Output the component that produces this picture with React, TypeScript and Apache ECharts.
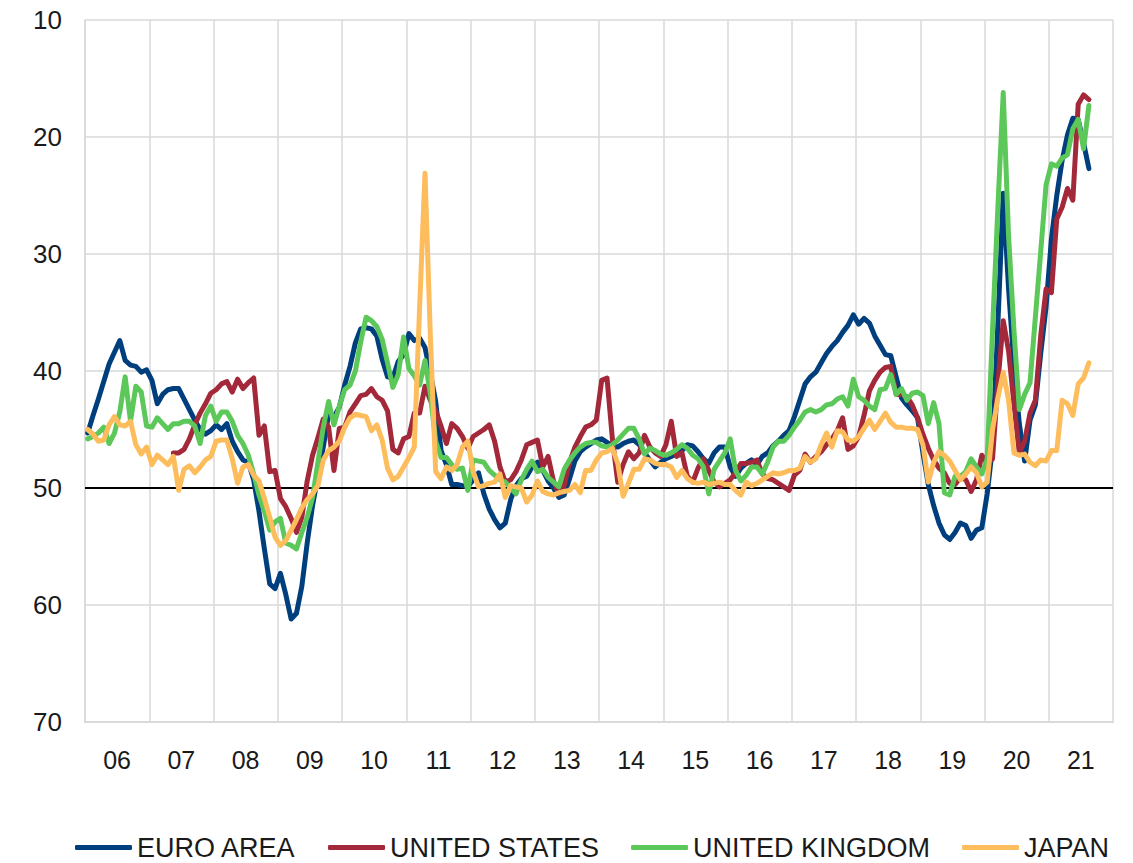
import React, { useEffect, useRef } from "react";
import * as echarts from "echarts";

// Month index 0 = Jan 2006 ... last point Aug 2021
const yearLabels = ["06", "07", "08", "09", "10", "11", "12", "13", "14", "15", "16", "17", "18", "19", "20", "21"];
const seriesNames = ["EURO AREA", "UNITED STATES", "UNITED KINGDOM", "JAPAN"];

const euroArea = [
  45.3, 43.8, 42.4, 40.9, 39.4, 38.4, 37.4, 39.1, 39.5, 39.6, 40.1, 39.9,
  40.8, 42.8, 42.0, 41.6, 41.5, 41.5, 42.4, 43.3, 44.2, 45.0, 45.4, 45.1,
  44.6, 45.0, 44.5, 46.0, 46.9, 47.6, 47.8, 49.3, 52.0, 55.2, 58.2, 58.6,
  57.3, 59.1, 61.2, 60.7, 58.4, 54.7, 51.5, 49.0, 46.5, 43.7, 43.9, 43.1,
  41.2, 39.6, 37.6, 36.4, 36.3, 36.4, 37.0, 39.0, 40.5, 40.6, 39.2, 38.6,
  36.8, 37.4, 37.2, 38.0, 40.2, 42.6, 46.8, 48.0, 49.7, 49.7, 49.8, 49.9,
  49.3, 48.7, 50.5, 51.8, 52.7, 53.4, 53.0, 51.0, 49.8, 49.2, 49.0, 48.2,
  47.8, 48.5, 49.4, 50.0, 50.8, 50.6, 49.2, 47.7, 46.9, 46.5, 46.2, 45.9,
  45.8, 46.1, 46.4, 46.5, 46.2, 46.0, 45.9, 46.3, 47.0, 47.6, 48.2, 47.8,
  47.5, 47.3, 47.1, 46.8, 46.3, 46.4, 46.9, 47.5, 47.9, 47.0, 46.5, 46.5,
  48.2, 49.0, 48.3, 47.9, 47.6, 48.0, 47.3, 47.0, 46.4, 46.0, 45.5, 45.1,
  43.9, 42.5, 41.1, 40.5, 40.1, 39.3, 38.5, 37.9, 37.4, 36.7, 36.1, 35.2,
  36.0, 35.5, 35.9, 37.0, 37.8, 38.6, 38.7, 40.5, 42.3, 42.9, 43.4, 44.0,
  47.0, 49.7, 51.5, 53.0, 54.0, 54.4, 53.8, 53.0, 53.2, 54.3, 53.6, 53.4,
  50.5, 46.5, 36.0, 24.8, 33.0, 39.5, 44.5, 47.7, 44.2, 42.9, 38.5, 34.5,
  28.7, 25.0, 22.0, 19.8, 18.4, 18.5, 20.5, 22.7,
];

const unitedStates = [
  null, null, null, null, null, null, null, null, null, null, null, null,
  null, null, null, null, 47.0, 47.0, 46.7, 45.8, 44.6, 43.6, 42.8, 41.9,
  41.6, 41.1, 40.9, 41.8, 40.7, 41.5, 41.0, 40.6, 45.5, 44.7, 48.6, 48.5,
  50.9, 51.6, 52.6, 53.8, 52.5, 49.4, 47.2, 45.7, 44.1, 44.8, 48.5, 44.9,
  44.8, 43.5, 42.8, 42.1, 42.0, 41.5, 42.2, 42.5, 43.4, 46.7, 47.0, 45.8,
  45.6, 43.6, 43.6, 41.3, 42.5, 43.4, 44.7, 46.2, 44.5, 44.9, 45.6, 46.6,
  45.6, 45.3, 45.0, 44.6, 46.0, 48.2, 49.5, 49.3, 48.6, 47.6, 46.3, 46.1,
  45.9, 48.2, 47.3, 49.4, 50.5, 49.8, 47.8, 46.5, 45.6, 44.8, 44.6, 44.2,
  40.8, 40.6, 45.8, 49.5, 48.0, 46.9, 47.5, 47.0, 45.5, 46.5, 47.0, 47.3,
  46.3, 44.3, 47.3, 47.0, 49.0, 49.5, 48.3, 47.5, 48.5, 49.5, 49.9, 49.6,
  49.3, 48.7, 47.9, 47.9, 47.8, 47.6, 48.8, 49.2, 49.3, 49.6, 49.9, 50.2,
  48.9, 48.5, 47.1, 47.8, 47.3, 46.9, 46.3, 45.8, 45.1, 44.0, 46.7, 46.4,
  45.6, 43.8, 41.7, 40.8, 40.1, 39.7, 39.6, 42.0, 42.0, 42.2, 42.9, 44.0,
  45.4, 46.6, 47.6, 48.3, 48.7, 49.6, 49.7, 49.1, 49.3, 50.3, 49.3, 47.2,
  47.9, 47.5, 41.0, 35.7, 38.3, 42.8, 47.0, 46.0, 43.6, 42.5, 37.0, 33.0,
  33.3, 27.0, 26.0, 24.4, 25.4, 17.2, 16.4, 16.8,
];

const unitedKingdom = [
  45.8, 45.6, 45.3, 44.8, 46.2, 45.3, 43.5, 40.5, 44.3, 41.3, 41.8, 44.7,
  44.8, 44.0, 44.5, 45.0, 44.5, 44.5, 44.3, 44.3, 44.7, 46.2, 43.8, 43.0,
  44.3, 43.5, 43.5, 44.3, 45.5, 46.2, 47.2, 48.8, 50.6, 52.0, 53.6, 52.9,
  52.6, 54.7, 54.9, 55.2, 53.8, 52.5, 50.8, 47.8, 44.8, 42.6, 44.6, 43.0,
  41.6, 41.2, 40.0, 37.5, 35.4, 35.7, 36.2, 37.3, 39.3, 41.4, 40.3, 37.1,
  39.8, 40.4, 41.2, 39.1, 42.0, 46.0, 47.4, 47.4, 48.0, 48.4, 48.3, 50.2,
  47.6, 47.7, 47.8, 48.5, 48.9, 49.3, 49.5, 50.0, 50.5, 49.3, 48.4, 47.7,
  48.6, 48.4, 49.1, 49.5, 49.9, 48.4, 47.6, 47.0, 46.5, 46.2, 46.1, 46.1,
  46.4, 46.5, 46.3, 45.9, 45.4, 44.9, 44.9, 45.8, 47.1, 46.6, 46.8, 47.1,
  47.2, 47.0, 46.7, 46.3, 46.6, 47.2, 47.5, 48.2, 50.5, 48.4, 47.7, 47.0,
  45.8, 48.5, 49.4, 48.9, 48.2, 48.2, 48.8, 47.8, 46.5, 46.0, 46.0, 45.5,
  44.8, 44.2, 43.5, 43.3, 43.5, 43.3, 42.9, 42.8, 42.4, 42.2, 43.0, 40.7,
  42.2, 42.5, 43.0, 43.3, 41.6, 41.5, 40.3, 42.0, 41.5, 42.5, 41.9, 41.8,
  42.1, 44.5, 42.7, 44.5, 50.4, 50.6, 49.0, 49.0, 48.6, 47.5, 48.2, 48.8,
  47.5, 36.5, 26.0, 16.2, 28.5, 36.5, 43.3, 42.0, 41.0, 35.4, 29.8, 24.1,
  22.3, 22.5, 21.8, 21.5, 19.3, 18.5, 21.0, 17.3,
];

const japan = [
  45.0, 45.4, 46.0, 45.9, 44.6, 43.9, 44.6, 44.7, 44.3, 46.3, 47.1, 46.5,
  48.0, 47.2, 47.6, 48.0, 47.3, 50.2, 48.4, 48.1, 48.7, 48.2, 47.6, 47.3,
  46.0, 45.9, 45.9, 47.5, 49.6, 48.2, 48.0, 48.9, 49.4, 50.9, 52.5, 54.2,
  54.9, 54.5, 53.6, 52.7, 51.7, 51.0, 50.5, 49.8, 47.6, 46.8, 46.5, 46.0,
  44.8, 44.0, 43.7, 43.8, 43.9, 45.1, 44.6, 45.9, 48.3, 49.3, 49.0, 48.2,
  47.4, 46.5, 34.5, 23.1, 37.0, 48.6, 49.2, 48.2, 48.5, 48.0, 46.5, 46.0,
  48.6, 49.9, 49.8, 49.6, 49.5, 48.8, 50.8, 49.8, 49.9, 50.0, 51.2, 50.6,
  49.4, 50.3, 50.5, 50.6, 50.4, 50.3, 50.2, 49.7, 50.4, 48.5, 48.5, 47.6,
  47.0, 46.9, 46.6, 47.9, 50.7, 49.6, 48.4, 48.4, 47.5, 47.6, 47.9, 48.0,
  48.0, 48.2, 49.1, 48.5, 49.2, 49.5, 49.6, 49.5, 49.7, 49.6, 49.5, 49.7,
  49.7, 50.2, 50.6, 49.5, 49.8, 49.6, 49.3, 49.0, 48.7, 48.8, 48.7, 48.5,
  48.5, 48.3, 47.3, 47.8, 47.5, 46.3, 45.3, 46.5, 45.1, 45.2, 45.9, 46.0,
  45.6, 44.9, 44.2, 45.0, 44.3, 43.6, 44.4, 44.8, 44.8, 44.9, 44.9, 45.0,
  46.3, 49.5, 47.8, 46.9, 47.2, 47.7, 48.5, 49.3, 48.8, 48.2, 48.7, 49.9,
  49.5, 45.0, 42.3, 40.1, 42.5, 47.0, 47.2, 47.1, 47.8, 48.1, 47.6, 47.7,
  46.8, 46.8, 42.5, 42.8, 43.8, 41.1, 40.6, 39.3,
];

const yTicks = { min: 10, max: 70, interval: 10 };
const referenceLevel = 50;

const colors = ["#003f7e", "#a2283a", "#5cc85a", "#fdbd5d"];
const FONT = "'Liberation Sans', Arial, Helvetica, sans-serif";

function toPairs(values: (number | null)[]) {
  return values.map((v, i) => [i + 0.5, v]);
}

export default function App() {
  const ref = useRef<HTMLDivElement>(null);

  useEffect(() => {
    if (!ref.current) return;
    const chart = echarts.init(ref.current, undefined, { renderer: "svg" });
    const allSeries = [euroArea, unitedStates, unitedKingdom, japan];
    const gridColor = "#d9d9d9";
    chart.setOption({
      animation: false,
      color: colors,
      textStyle: { fontFamily: FONT },
      grid: { left: 85, right: 20, top: 20, bottom: 141, containLabel: false },
      legend: {
        data: seriesNames,
        left: 70,
        top: 829,
        itemWidth: 57,
        itemHeight: 5,
        itemGap: 32,
        icon: "roundRect",
        textStyle: { fontSize: 27, color: "#1a1a1a", fontFamily: FONT },
      },
      xAxis: [
        {
          type: "value",
          min: 0,
          max: yearLabels.length * 12,
          interval: 12,
          axisLine: { show: true, onZero: false, lineStyle: { color: gridColor, width: 2 } },
          axisTick: { show: false },
          axisLabel: { show: false },
          splitLine: { show: true, lineStyle: { color: gridColor, width: 1.5 } },
        },
        {
          type: "category",
          data: yearLabels,
          position: "bottom",
          boundaryGap: true,
          axisLine: { show: false },
          axisTick: { show: false },
          splitLine: { show: false },
          axisLabel: { interval: 0, fontSize: 25, color: "#1a1a1a", margin: 25, fontFamily: FONT },
        },
      ],
      yAxis: {
        type: "value",
        inverse: true,
        min: yTicks.min,
        max: yTicks.max,
        interval: yTicks.interval,
        axisLine: { show: true, lineStyle: { color: gridColor, width: 1.5 } },
        axisTick: { show: false },
        axisLabel: { fontSize: 26, color: "#1a1a1a", margin: 23, fontFamily: FONT },
        splitLine: { show: true, lineStyle: { color: gridColor, width: 1.5 } },
      },
      series: allSeries.map((vals, idx) => ({
        name: seriesNames[idx],
        type: "line",
        xAxisIndex: 0,
        data: toPairs(vals),
        showSymbol: false,
        symbol: "none",
        connectNulls: false,
        lineStyle: { width: 5, color: colors[idx], cap: "round", join: "round" },
        itemStyle: { color: colors[idx] },
        z: 3,
        markLine:
          idx === 0
            ? {
                silent: true,
                symbol: ["none", "none"],
                label: { show: false },
                z: 1,
                lineStyle: { color: "#000000", width: 2, type: "solid" },
                data: [{ yAxis: referenceLevel }],
              }
            : undefined,
      })),
    });
    return () => chart.dispose();
  }, []);

  return (
    <div
      ref={ref}
      style={{ position: "fixed", left: 0, top: 0, width: 1133, height: 863, background: "#ffffff" }}
    />
  );
}
